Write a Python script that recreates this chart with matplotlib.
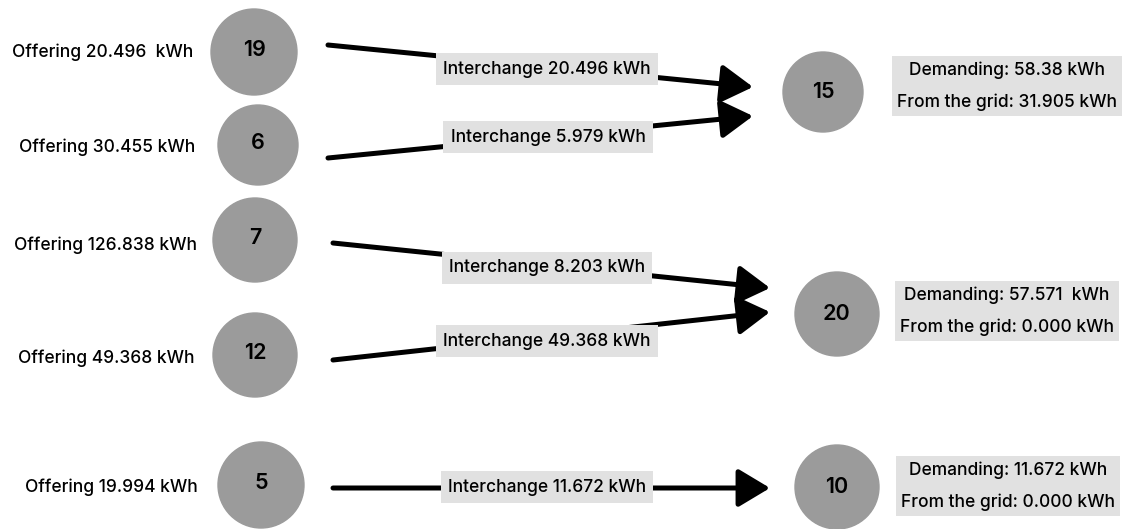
import matplotlib
matplotlib.use("Agg")
import matplotlib.pyplot as plt
from matplotlib.patches import Circle, FancyArrowPatch

plt.rcParams['font.family'] = ['Inter', 'DejaVu Sans']

# data
sources = ["19", "6", "7", "12", "5"]
offering = ["20.496  kWh", "30.455 kWh", "126.838 kWh", "49.368 kWh", "19.994 kWh"]
targets = ["15", "20", "10"]
demanding = ["58.38 kWh", "57.571  kWh", "11.672 kWh"]
from_grid = ["31.905 kWh", "0.000 kWh", "0.000 kWh"]
interchange = ["20.496", "5.979", "8.203", "49.368", "11.672"]

# layout (pixel space, y down)
src_xy = [(254, 52), (258, 145), (255, 240), (255, 355), (261, 485)]
src_r = [43, 40, 42, 42, 43]
lab_x = [193, 195, 197, 195, 198]
lab_y = [52, 147, 245, 358, 487]
tgt_xy = [(823, 92), (837, 314), (837, 487)]
tgt_r = [40, 42, 42]
box_xy = [(1007, 86), (1007, 311), (1008, 486)]
arr_start = [(328, 45), (328, 158), (333, 243), (333, 360), (333, 488)]
arr_end = [(753, 87), (753, 116), (770, 288), (770, 312), (770, 488)]
ibox_xy = [(547, 69), (548, 137), (547, 268), (547, 341), (547, 487)]

circle_col = "#9b9b9b"
box_col = "#e1e1e1"

fig = plt.figure(figsize=(11.32, 5.29), dpi=100)
ax = fig.add_axes([0, 0, 1, 1])
ax.set_xlim(0, 1132)
ax.set_ylim(529, 0)
ax.axis('off')

for i, s in enumerate(sources):
    x, y = src_xy[i]
    ax.add_patch(Circle((x, y), src_r[i], color=circle_col, zorder=2))
    ax.text(x, y - 2, s, ha='center', va='center', fontsize=15.5, fontweight='semibold', zorder=3)
    ax.text(lab_x[i], lab_y[i], "Offering " + offering[i], ha='right', va='center',
            fontsize=12.5, fontweight='medium')

for i, t in enumerate(targets):
    x, y = tgt_xy[i]
    ax.add_patch(Circle((x, y), tgt_r[i], color=circle_col, zorder=2))
    ax.text(x, y, t, ha='center', va='center', fontsize=15.5, fontweight='semibold', zorder=3)
    bx, by = box_xy[i]
    ax.text(bx, by, f"Demanding: {demanding[i]}\nFrom the grid: {from_grid[i]}",
            ha='center', va='center', fontsize=12.5, fontweight='medium', linespacing=2.05,
            bbox=dict(boxstyle='square,pad=0.3', fc=box_col, ec='none'))

for i, v in enumerate(interchange):
    a = FancyArrowPatch(arr_start[i], arr_end[i], arrowstyle='-|>,head_length=1.5,head_width=0.9',
                        mutation_scale=13, lw=3.6, color='black', shrinkA=0, shrinkB=0, zorder=1)
    ax.add_patch(a)
    bx, by = ibox_xy[i]
    ax.text(bx, by, f"Interchange {v} kWh", ha='center', va='center', fontsize=12.5,
            fontweight='medium', zorder=4,
            bbox=dict(boxstyle='square,pad=0.42', fc=box_col, ec='none'))

fig.savefig("out.png", dpi=100)
